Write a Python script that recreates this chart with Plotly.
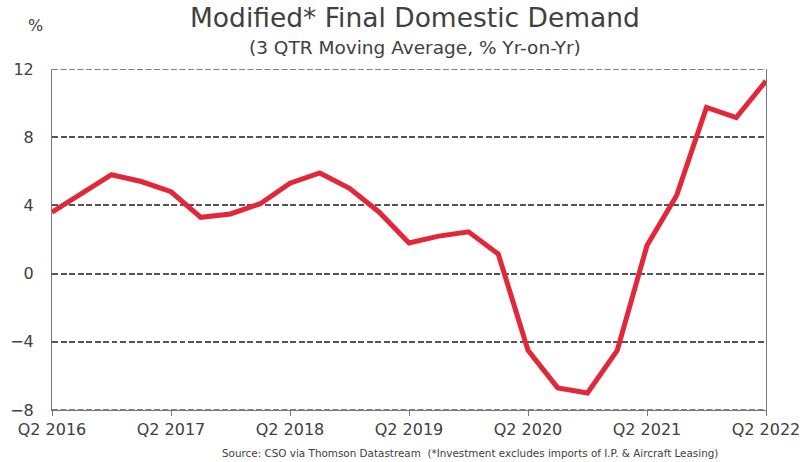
import plotly.graph_objs as go

quarters = [
    "Q2 2016", "Q3 2016", "Q4 2016", "Q1 2017",
    "Q2 2017", "Q3 2017", "Q4 2017", "Q1 2018",
    "Q2 2018", "Q3 2018", "Q4 2018", "Q1 2019",
    "Q2 2019", "Q3 2019", "Q4 2019", "Q1 2020",
    "Q2 2020", "Q3 2020", "Q4 2020", "Q1 2021",
    "Q2 2021", "Q3 2021", "Q4 2021", "Q1 2022",
    "Q2 2022",
]
mfdd = [
    3.6, 4.7, 5.8, 5.4,
    4.8, 3.3, 3.5, 4.1,
    5.3, 5.9, 5.0, 3.6,
    1.8, 2.2, 2.45, 1.15,
    -4.5, -6.7, -7.0, -4.5,
    1.65, 4.6, 9.75, 9.15,
    11.3,
]
x_ticks = ["Q2 2016", "Q2 2017", "Q2 2018", "Q2 2019", "Q2 2020", "Q2 2021", "Q2 2022"]
y_ticks = [-8, -4, 0, 4, 8, 12]

font_family = "DejaVu Sans"
text_grey = "#404040"
grid_grey = "#555555"
grid_dash = "6px,2.5px"

fig = go.Figure()
fig.add_trace(go.Scatter(
    x=quarters,
    y=mfdd,
    mode="lines",
    line=dict(color="#e3273a", width=5),
    showlegend=False,
    hoverinfo="skip",
))

fig.update_xaxes(
    type="category",
    range=[0, len(quarters) - 1],
    tickvals=x_ticks,
    ticktext=x_ticks,
    ticks="outside",
    ticklen=5,
    tickcolor="#777777",
    showgrid=False,
    showline=True,
    linecolor="#777777",
    linewidth=1,
    automargin=False,
    tickfont=dict(size=16, color=text_grey, family=font_family),
)

fig.update_yaxes(
    range=[-8, 12],
    tickvals=y_ticks,
    showgrid=True,
    gridcolor=grid_grey,
    gridwidth=1.6,
    griddash=grid_dash,
    zeroline=False,
    showline=True,
    mirror=True,
    linecolor="#777777",
    linewidth=1,
    ticks="",
    ticklabelstandoff=14,
    automargin=False,
    tickfont=dict(size=16, color=text_grey, family=font_family),
)

# dashed lines at the range limits (plotly skips grid there)
for yv in (y_ticks[0], y_ticks[-1]):
    fig.add_shape(
        type="line", xref="paper", yref="y", x0=0, x1=1, y0=yv, y1=yv,
        line=dict(color=grid_grey, width=1.6, dash=grid_dash), layer="below",
    )

fig.update_layout(
    width=809,
    height=462,
    margin=dict(l=52, r=43, t=69, b=52),
    plot_bgcolor="white",
    paper_bgcolor="white",
    font=dict(family=font_family, color=text_grey),
)

# titles and notes
fig.add_annotation(
    text="Modified* Final Domestic Demand",
    xref="paper", yref="paper", x=0.508, y=1.0, yshift=52, yanchor="middle",
    showarrow=False, font=dict(size=26.5, color=text_grey),
)
fig.add_annotation(
    text="(3 QTR Moving Average, % Yr-on-Yr)",
    xref="paper", yref="paper", x=0.508, y=1.0, yshift=22, yanchor="middle",
    showarrow=False, font=dict(size=18.5, color=text_grey),
)
fig.add_annotation(
    text="%",
    xref="paper", yref="paper", x=0, y=1.0, xshift=-17, yshift=44, yanchor="middle",
    xanchor="center", showarrow=False, font=dict(size=16, color=text_grey),
)
fig.add_annotation(
    text="Source: CSO via Thomson Datastream  (*Investment excludes imports of I.P. & Aircraft Leasing)",
    xref="paper", yref="paper", x=0.585, y=0, yshift=-43, yanchor="middle",
    xanchor="center", showarrow=False, font=dict(size=10.4, color=text_grey),
)

# page has a default 8px body margin; remove it so the figure sits at the corner
fig.write_html(
    "out.html",
    config={"displayModeBar": False},
    post_script="document.body.style.margin = '0';",
)
